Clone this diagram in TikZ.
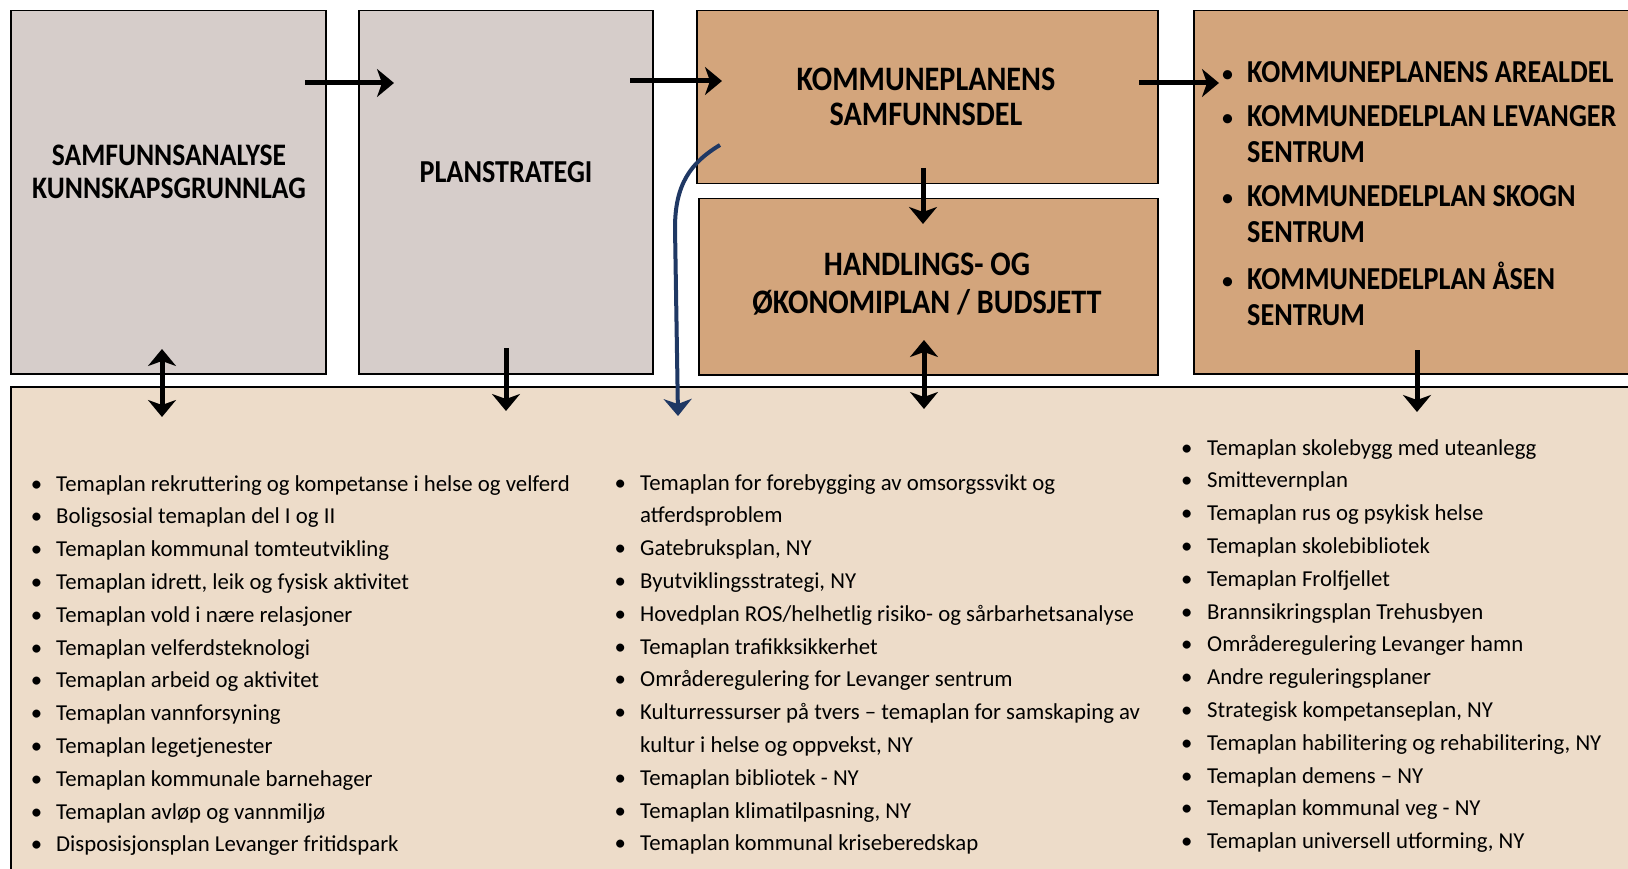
\documentclass[tikz,border=0pt]{standalone}
\usepackage{fontspec}
\setmainfont{Carlito}
\newfontfamily\headfont[FakeStretch=0.88]{Carlito}
\usetikzlibrary{arrows.meta}
\definecolor{boxgrey}{HTML}{D6CDCA}
\definecolor{boxbrown}{HTML}{D3A57C}
\definecolor{listbg}{HTML}{EDDCC9}
\definecolor{navyarrow}{HTML}{1F3864}
\newcommand{\hbul}{{\normalfont\fontsize{26}{26}\selectfont\textbullet}}
\begin{document}
\begin{tikzpicture}[x=1pt,y=-1pt,
    planbox/.style={draw, line width=1.5pt, anchor=north west, inner sep=0pt},
    headtxt/.style={font=\headfont\bfseries\fontsize{32}{33}\selectfont, align=center, inner sep=0pt},
    listtxt/.style={font=\fontsize{22.8}{32.8}\selectfont, anchor=base west, inner sep=0pt},
    arr/.style={line width=5pt, -{Stealth[length=17pt,width=28pt,inset=5pt]}},
    dblarr/.style={line width=5pt, {Stealth[length=17pt,width=28pt,inset=5pt]}-{Stealth[length=17pt,width=28pt,inset=5pt]}}]
                \clip (0,0) rectangle (1628,869);
                \fill[white] (0,0) rectangle (1628,869);

                \node[planbox, fill=boxgrey, minimum width=315pt, minimum height=363pt] (sam) at (10,10) {};
                \node[planbox, fill=boxgrey, minimum width=294pt, minimum height=363pt] (plan) at (358,10) {};
                \node[planbox, fill=boxbrown, minimum width=461pt, minimum height=173pt] (ksd) at (696,10) {};
                \node[planbox, fill=boxbrown, minimum width=459pt, minimum height=176pt] (hok) at (698,198) {};
                \node[planbox, fill=boxbrown, minimum width=450pt, minimum height=363pt] (areal) at (1193,10) {};
                \node[planbox, fill=listbg, minimum width=1640pt, minimum height=500pt] (tema) at (10,386) {};

                \node[headtxt, font=\headfont\bfseries\fontsize{31.3}{33}\selectfont] (samtxt) at (169,172) {SAMFUNNSANALYSE\\KUNNSKAPSGRUNNLAG};
                \node[headtxt] (plantxt) at (506,172) {PLANSTRATEGI};
                \node[headtxt, font=\headfont\bfseries\fontsize{34.3}{35}\selectfont] (ksdtxt) at (926,97) {KOMMUNEPLANENS\\SAMFUNNSDEL};
                \node[headtxt, font=\headfont\bfseries\fontsize{34.3}{38}\selectfont] (hoktxt) at (927,284) {HANDLINGS- OG\\ØKONOMIPLAN / BUDSJETT};
                \node[headtxt, anchor=base west, align=left] (arealtxt) at (1221,83) {\fontsize{32}{36}\selectfont
                    \begin{tabular}[t]{@{}p{26pt}@{}l@{}}
                    \hbul & KOMMUNEPLANENS AREALDEL\\[8pt]
                    \hbul & KOMMUNEDELPLAN LEVANGER\\
                          & SENTRUM\\[8pt]
                    \hbul & KOMMUNEDELPLAN SKOGN\\
                          & SENTRUM\\[8pt]
                    \hbul & KOMMUNEDELPLAN ÅSEN\\
                          & SENTRUM
                    \end{tabular}};

                \node[listtxt] (temavenstre) at (30.7,491) {\begin{tabular}[t]{@{}p{25.3pt}@{}l@{}}
                    \textbullet & Temaplan rekruttering og kompetanse i helse og velferd\\
                    \textbullet & Boligsosial temaplan del I og II\\
                    \textbullet & Temaplan kommunal tomteutvikling\\
                    \textbullet & Temaplan idrett, leik og fysisk aktivitet\\
                    \textbullet & Temaplan vold i nære relasjoner\\
                    \textbullet & Temaplan velferdsteknologi\\
                    \textbullet & Temaplan arbeid og aktivitet\\
                    \textbullet & Temaplan vannforsyning\\
                    \textbullet & Temaplan legetjenester\\
                    \textbullet & Temaplan kommunale barnehager\\
                    \textbullet & Temaplan avløp og vannmiljø\\
                    \textbullet & Disposisjonsplan Levanger fritidspark
                    \end{tabular}};
                \node[listtxt] (temamidt) at (614.5,490) {\begin{tabular}[t]{@{}p{25.5pt}@{}l@{}}
                    \textbullet & Temaplan for forebygging av omsorgssvikt og\\
                                & atferdsproblem\\
                    \textbullet & Gatebruksplan, NY\\
                    \textbullet & Byutviklingsstrategi, NY\\
                    \textbullet & Hovedplan ROS/helhetlig risiko- og sårbarhetsanalyse\\
                    \textbullet & Temaplan trafikksikkerhet\\
                    \textbullet & Områderegulering for Levanger sentrum\\
                    \textbullet & Kulturressurser på tvers – temaplan for samskaping av\\
                                & kultur i helse og oppvekst, NY\\
                    \textbullet & Temaplan bibliotek - NY\\
                    \textbullet & Temaplan klimatilpasning, NY\\
                    \textbullet & Temaplan kommunal kriseberedskap
                    \end{tabular}};
                \node[listtxt] (temahoyre) at (1181,455) {\begin{tabular}[t]{@{}p{26pt}@{}l@{}}
                    \textbullet & Temaplan skolebygg med uteanlegg\\
                    \textbullet & Smittevernplan\\
                    \textbullet & Temaplan rus og psykisk helse\\
                    \textbullet & Temaplan skolebibliotek\\
                    \textbullet & Temaplan Frolfjellet\\
                    \textbullet & Brannsikringsplan Trehusbyen\\
                    \textbullet & Områderegulering Levanger hamn\\
                    \textbullet & Andre reguleringsplaner\\
                    \textbullet & Strategisk kompetanseplan, NY\\
                    \textbullet & Temaplan habilitering og rehabilitering, NY\\
                    \textbullet & Temaplan demens – NY\\
                    \textbullet & Temaplan kommunal veg - NY\\
                    \textbullet & Temaplan universell utforming, NY
                    \end{tabular}};

                \coordinate (samut) at (305,83);
                \coordinate (planinn) at (394,83);
                \coordinate (planut) at (630,81);
                \coordinate (ksdinn) at (722,81);
                \coordinate (ksdut) at (1139,83);
                \coordinate (arealinn) at (1219,83);
                \coordinate (ksdned) at (923,168);
                \coordinate (hokinn) at (923,224);
                \coordinate (samned) at (162,349);
                \coordinate (temasam) at (162,417);
                \coordinate (planned) at (506,348);
                \coordinate (temaplan) at (506,411);
                \coordinate (ksdkurve) at (720,145);
                \coordinate (temaksd) at (678,416);
                \coordinate (hokned) at (924,340);
                \coordinate (temahok) at (924,409);
                \coordinate (arealned) at (1417,350);
                \coordinate (temaareal) at (1417,412);

                \draw[arr] (samut) to (planinn);
                \draw[arr] (planut) to (ksdinn);
                \draw[arr] (ksdut) to (arealinn);
                \draw[arr] (ksdned) to (hokinn);
                \draw[dblarr] (samned) to (temasam);
                \draw[arr] (planned) to (temaplan);
                \draw[dblarr] (hokned) to (temahok);
                \draw[arr] (arealned) to (temaareal);
                \draw[arr, navyarrow, line width=4pt] (ksdkurve) .. controls (690,163) and (675,185) .. (675,228) to (temaksd);
            \end{tikzpicture}
\end{document}
